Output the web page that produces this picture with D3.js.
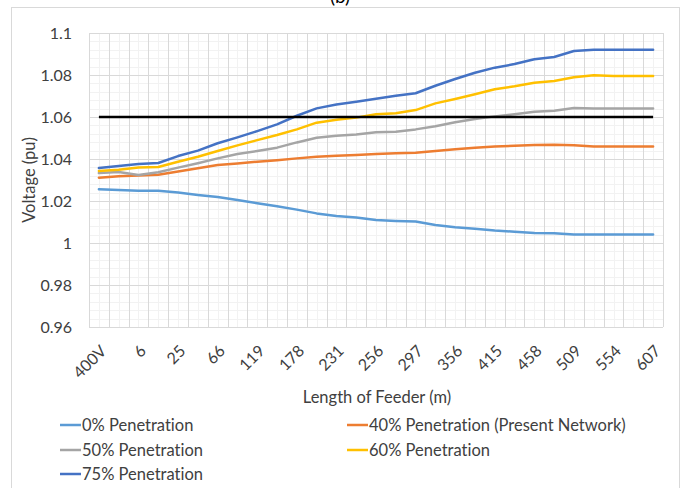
<!DOCTYPE html>
<html>
<head>
<meta charset="utf-8">
<script src="https://cdn.jsdelivr.net/npm/d3@7"></script>
<style>
  html, body { margin: 0; padding: 0; background: #fff; }
  svg { display: block; }
  text { font-variant-ligatures: none; font-feature-settings: "liga" 0; }
</style>
</head>
<body>
<svg id="chart" width="685" height="488"></svg>
<script>
// Feeder voltage profile for increasing PV penetration levels.
// 29 nodes along the feeder; every second node carries a distance label.
const tickLabels = ["400V", "6", "25", "66", "119", "178", "231", "256", "297", "356", "415", "458", "509", "554", "607"];

const pen0 = [1.0256, 1.0252, 1.0249, 1.0249, 1.0240, 1.0229, 1.0219, 1.0205, 1.0189, 1.0175,
              1.0159, 1.0141, 1.0129, 1.0121, 1.0110, 1.0105, 1.0102, 1.0086, 1.0075, 1.0068,
              1.0059, 1.0054, 1.0048, 1.0046, 1.0040, 1.0040, 1.0040, 1.0040, 1.0040];
const pen40 = [1.0311, 1.0318, 1.0322, 1.0325, 1.0340, 1.0356, 1.0371, 1.0379, 1.0387, 1.0394,
               1.0403, 1.0411, 1.0416, 1.0419, 1.0424, 1.0427, 1.0430, 1.0438, 1.0446, 1.0454,
               1.0459, 1.0463, 1.0467, 1.0468, 1.0465, 1.0460, 1.0459, 1.0459, 1.0459];
const pen50 = [1.0333, 1.0338, 1.0324, 1.0337, 1.0359, 1.0380, 1.0403, 1.0424, 1.0438, 1.0454,
               1.0479, 1.0501, 1.0511, 1.0517, 1.0527, 1.0530, 1.0541, 1.0556, 1.0575, 1.0590,
               1.0603, 1.0613, 1.0625, 1.0630, 1.0643, 1.0640, 1.0640, 1.0640, 1.0640];
const pen60 = [1.0343, 1.0349, 1.0359, 1.0362, 1.0387, 1.0411, 1.0438, 1.0465, 1.0490, 1.0514,
               1.0541, 1.0573, 1.0587, 1.0597, 1.0613, 1.0618, 1.0633, 1.0665, 1.0686, 1.0708,
               1.0732, 1.0746, 1.0763, 1.0771, 1.0789, 1.0799, 1.0795, 1.0795, 1.0795];
const pen75 = [1.0357, 1.0367, 1.0376, 1.0381, 1.0414, 1.0440, 1.0475, 1.0503, 1.0533, 1.0565,
               1.0606, 1.0641, 1.0660, 1.0673, 1.0687, 1.0701, 1.0713, 1.0749, 1.0781, 1.0811,
               1.0835, 1.0852, 1.0875, 1.0886, 1.0914, 1.0920, 1.0920, 1.0920, 1.0920];
const upperLimit = 1.06;

const seriesNames = ["0% Penetration", "40% Penetration (Present Network)", "50% Penetration", "60% Penetration", "75% Penetration"];
const seriesColors = ["#5B9BD5", "#ED7D31", "#A5A5A5", "#FFC000", "#4472C4"];
const seriesValues = [pen0, pen40, pen50, pen60, pen75];

const yTicks = [0.96, 0.98, 1.0, 1.02, 1.04, 1.06, 1.08, 1.1];

const svg = d3.select("#chart");
const font = "Lato, 'Liberation Sans', sans-serif";
const textColor = "#404040";

// chart frame
svg.append("rect")
  .attr("x", 11.5).attr("y", 7.5).attr("width", 668).attr("height", 500)
  .attr("fill", "none").attr("stroke", "#d9d9d9").attr("stroke-width", 1);

// panel caption, partly cut by the top edge
svg.append("text")
  .attr("x", 340).attr("y", 3)
  .attr("text-anchor", "middle")
  .attr("font-family", font).attr("font-size", 19).attr("fill", "#000")
  .text("(b)");

const plot = { left: 89, right: 663, top: 33, bottom: 327 };
const n = pen0.length;

const x = d3.scaleBand().domain(d3.range(n)).range([plot.left, plot.right]).padding(0);
const xc = i => x(i) + x.bandwidth() / 2;
const y = d3.scaleLinear().domain([0.96, 1.1]).range([plot.bottom, plot.top]);

const g = svg.append("g");

// minor grid
const minorY = d3.range(0.96, 1.1001, 0.004).filter(v => !yTicks.some(t => Math.abs(t - v) < 1e-6));
g.selectAll(".minor-h").data(minorY).join("line")
  .attr("x1", plot.left).attr("x2", plot.right)
  .attr("y1", d => Math.round(y(d)) + 0.5).attr("y2", d => Math.round(y(d)) + 0.5)
  .attr("stroke", "#f2f2f2").attr("stroke-width", 1);
g.selectAll(".minor-v").data(d3.range(n)).join("line")
  .attr("y1", plot.top).attr("y2", plot.bottom)
  .attr("x1", d => Math.round(xc(d)) + 0.5).attr("x2", d => Math.round(xc(d)) + 0.5)
  .attr("stroke", "#f2f2f2").attr("stroke-width", 1);

// major grid
g.selectAll(".major-h").data(yTicks).join("line")
  .attr("x1", plot.left).attr("x2", plot.right)
  .attr("y1", d => Math.round(y(d)) + 0.5).attr("y2", d => Math.round(y(d)) + 0.5)
  .attr("stroke", "#d9d9d9").attr("stroke-width", 1);
g.selectAll(".major-v").data(d3.range(n + 1)).join("line")
  .attr("y1", plot.top).attr("y2", plot.bottom)
  .attr("x1", d => Math.round(d < n ? x(d) : plot.right) + 0.5)
  .attr("x2", d => Math.round(d < n ? x(d) : plot.right) + 0.5)
  .attr("stroke", "#d9d9d9").attr("stroke-width", 1);

// y axis labels
const yAxis = d3.axisLeft(y).tickValues(yTicks).tickSize(0).tickPadding(0)
  .tickFormat(d => String(+d.toFixed(2)));
svg.append("g").attr("transform", `translate(${plot.left - 17},0)`).call(yAxis)
  .call(s => s.select(".domain").remove())
  .call(s => s.selectAll("text").attr("font-family", font).attr("font-size", 16)
    .attr("fill", textColor).attr("dy", "0.35em"));

// x axis labels, every second node, rotated
const xAxis = d3.axisBottom(d3.scaleLinear().domain([0, n - 1]).range([xc(0), xc(n - 1)]))
  .tickValues(d3.range(0, n, 2)).tickSize(0).tickPadding(0)
  .tickFormat(d => tickLabels[d / 2]);
svg.append("g").attr("transform", `translate(0,${plot.bottom})`).call(xAxis)
  .call(s => s.select(".domain").remove())
  .call(s => s.selectAll("text")
    .attr("font-family", font).attr("font-size", 16).attr("fill", textColor)
    .attr("text-anchor", "end").attr("dy", null).attr("y", 0)
    .attr("transform", "translate(8,25) rotate(-45)"));

// axis titles
svg.append("text")
  .attr("transform", `translate(35,${(plot.top + plot.bottom) / 2}) rotate(-90)`)
  .attr("text-anchor", "middle")
  .attr("font-family", font).attr("font-size", 16.5).attr("fill", textColor)
  .text("Voltage (pu)");
svg.append("text")
  .attr("x", 377).attr("y", 403)
  .attr("text-anchor", "middle")
  .attr("font-family", font).attr("font-size", 16.5).attr("fill", textColor)
  .text("Length of Feeder (m)");

// series lines
const line = d3.line().x((d, i) => xc(i)).y(d => y(d));
const lines = svg.append("g");
seriesValues.forEach((vals, k) => {
  lines.append("path").datum(vals)
    .attr("d", line)
    .attr("fill", "none").attr("stroke", seriesColors[k])
    .attr("stroke-width", 2.5).attr("stroke-linejoin", "round").attr("stroke-linecap", "round");
});
// 1.06 pu upper voltage limit
lines.append("path").datum(pen0.map(() => upperLimit))
  .attr("d", line)
  .attr("fill", "none").attr("stroke", "#000").attr("stroke-width", 2.5);

// legend
const legendPos = [[60, 425], [347, 425], [60, 450], [347, 450], [60, 474]];
const legend = svg.append("g");
seriesNames.forEach((name, k) => {
  const [lx, ly] = legendPos[k];
  legend.append("line")
    .attr("x1", lx).attr("x2", lx + 21).attr("y1", ly).attr("y2", ly)
    .attr("stroke", seriesColors[k]).attr("stroke-width", 2.5);
  legend.append("text")
    .attr("x", lx + 22).attr("y", ly).attr("dy", "0.35em")
    .attr("font-family", font).attr("font-size", 16.5).attr("fill", textColor)
    .text(name);
});
</script>
</body>
</html>
